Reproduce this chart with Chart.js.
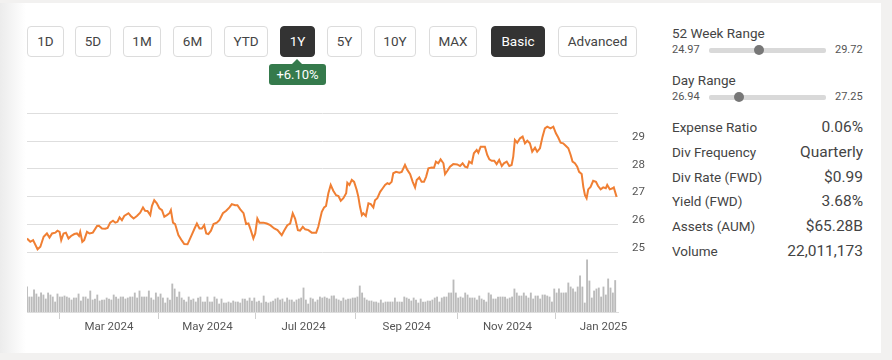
<!DOCTYPE html>
<html>
<head>
<meta charset="utf-8">
<script src="https://cdn.jsdelivr.net/npm/chart.js@4.4.1/dist/chart.umd.min.js"></script>
<style>
  body { margin: 0; width: 892px; height: 360px; overflow: hidden; background: #f2f1f0; font-family: Roboto, sans-serif; color: #444; position: relative; }
  .card { position: absolute; left: 0; top: 3px; width: 881px; height: 350px; background: #fff; }
  .shade { position: absolute; left: 0; top: 3px; width: 26px; height: 350px; background: linear-gradient(to right, #ececec, rgba(255,255,255,0)); }
  .btn { position: absolute; top: 26px; height: 31px; line-height: 29px; box-sizing: border-box; border: 1px solid #dcdcdc; border-radius: 4px; text-align: center; font-size: 13.5px; color: #444; background: #fff; }
  .btn.on { background: #333; border-color: #333; color: #fff; }
  .chg { position: absolute; left: 269px; top: 64px; width: 57px; height: 21px; line-height: 21px; background: #357a4c; color: #fff; border-radius: 3px; text-align: center; font-size: 13px; }
  .chg::before { content: ""; position: absolute; left: 23px; top: -5px; border-left: 5px solid transparent; border-right: 5px solid transparent; border-bottom: 5px solid #357a4c; }
  #wrap { position: absolute; left: 0; top: 100px; width: 660px; height: 245px; }
  .ttl { position: absolute; left: 672px; font-size: 13.5px; line-height: 18px; color: #444; }
  .num { position: absolute; font-size: 11px; line-height: 14px; color: #555; }
  .track { position: absolute; left: 709px; width: 117px; height: 5px; background: #d9d9d9; border-radius: 2px; }
  .knob { position: absolute; width: 10px; height: 10px; margin-left: -5px; border-radius: 50%; background: #777; }
  .row { position: absolute; left: 672px; width: 191px; display: flex; justify-content: space-between; line-height: 20px; }
  .row span:first-child { font-size: 13.5px; color: #444; }
  .row span:last-child { font-size: 15.5px; color: #444; }
</style>
</head>
<body>
<div class="card"></div>
<div class="shade"></div>

<div class="btn" style="left:27px;width:37px">1D</div>
<div class="btn" style="left:75px;width:36px">5D</div>
<div class="btn" style="left:123px;width:38px">1M</div>
<div class="btn" style="left:173px;width:39px">6M</div>
<div class="btn" style="left:224px;width:44px">YTD</div>
<div class="btn on" style="left:280px;width:35px">1Y</div>
<div class="btn" style="left:327px;width:35px">5Y</div>
<div class="btn" style="left:374px;width:42px">10Y</div>
<div class="btn" style="left:429px;width:48px">MAX</div>
<div class="btn on" style="left:491px;width:54px">Basic</div>
<div class="btn" style="left:558px;width:79px">Advanced</div>
<div class="chg">+6.10%</div>

<div id="wrap"><canvas id="priceChart" width="660" height="245"></canvas></div>

<div class="ttl" style="top:24px">52 Week Range</div>
<div class="num" style="left:672px;top:43px">24.97</div>
<div class="track" style="top:48px"></div>
<div class="knob" id="knobYear" style="top:45px"></div>
<div class="num" style="left:835px;top:43px">29.72</div>

<div class="ttl" style="top:71px">Day Range</div>
<div class="num" style="left:672px;top:90px">26.94</div>
<div class="track" style="top:95px"></div>
<div class="knob" id="knobDay" style="top:92px"></div>
<div class="num" style="left:835px;top:90px">27.25</div>

<div id="stats"></div>

<script>
// trading sessions since 10 Jan 2024 (x) and closing prices
const sessions = [0,1.4,2.6,4.5,5.7,7.1,8.5,9.6,10.7,12.1,13,13.9,14.6,15.6,16.6,17.7,18.8,20.2,21.3,22.2,
  22.7,23.6,24.4,25.6,26.7,28.1,29.9,30.7,32,33.4,34.4,35.5,36.7,37.7,38.6,39.5,40.5,41.5,43.3,44.3,
  45.5,46.9,48.3,49.5,50.4,51.4,52.6,53.3,54.3,55.4,56.5,57.6,58.6,59.7,60.8,61.4,62.3,63.2,64.6,66.1,
  67.1,68.5,69.3,70.4,71.5,72.5,73.6,74.6,75.6,76.5,77.4,78.5,79.6,81,82.1,83.6,85,86.4,87.4,88.8,
  89.8,91,92.4,93.5,94.5,95.5,96.6,97.4,98.3,99.2,100.9,102.3,103.8,105.5,106.9,108.7,109.7,111.1,112.3,113.4,
  114.4,115.6,116.5,117.7,118.7,120.1,121.5,123.4,124.3,125.8,126.8,127.6,128.6,129.6,130.7,131.9,132.9,133.9,135,136.2,
  136.7,137.6,138.6,139.6,140.7,141.4,142.1,142.9,143.5,144.6,145.7,146.7,147.8,148.5,149.5,150.7,151.8,152.8,153.8,154.6,
  155.6,156.3,157.5,158.9,159.9,161.3,162.3,163.5,164.6,165.6,166.3,167.4,168.4,169.4,170.3,171.3,172.7,173.7,174.5,175.5,
  176.5,177.7,178.4,179.4,180.5,181.9,183.6,184.8,185.9,186.9,187.9,188.7,189.8,190.7,191.9,192.6,193.6,195.4,196.4,197.3,
  198.3,199.4,200.4,201.5,202.6,203.5,204.7,205.8,206.8,207.5,208.2,209.2,210.4,211.5,212.5,213.5,214.6,215.6,216.8,217.7,
  218.9,220,221,222,223.4,224.6,225.7,226.7,227.7,228.8,230,231,232,232.8,233.8,234.8,235.6,236.7,237.4,238.1,
  238.8,239.5,240.5,241.6,242.8,243.7,244.8,245.9,247,247.6,248.7,249.9,250.4,251.6];
const closes = [25.49,25.37,25.43,25.10,25.19,25.55,25.67,25.52,25.67,25.70,25.77,25.73,25.43,25.67,25.70,25.49,25.58,25.65,25.67,25.58,
  25.73,25.37,25.43,25.73,25.67,25.70,25.94,25.95,25.85,25.84,25.87,26.06,26.13,26.06,26.09,26.25,26.15,26.30,26.40,26.30,
  26.21,26.30,26.42,26.61,26.49,26.48,26.33,26.66,26.87,26.76,26.58,26.51,26.27,26.33,26.40,26.51,26.06,26.01,25.61,25.41,
  25.29,25.28,25.43,25.64,25.85,26.03,25.85,25.85,25.97,25.67,25.65,25.77,26.01,26.06,26.15,26.40,26.49,26.61,26.73,26.69,
  26.69,26.54,26.40,26.01,26.03,25.79,25.49,25.67,26.21,26.06,26.06,26.03,25.97,25.85,25.79,25.61,25.77,25.97,26.03,26.40,
  26.21,25.79,25.77,25.91,25.82,25.79,25.70,25.70,25.91,26.45,26.61,26.66,27.12,27.42,27.21,27.05,27.02,26.85,26.94,27.12,
  27.50,27.42,27.60,27.53,27.24,26.99,26.63,26.33,26.40,26.30,26.76,26.73,26.61,26.87,26.94,27.17,27.30,27.42,27.48,27.45,
  27.53,27.84,27.89,27.86,27.89,28.14,27.96,27.81,27.53,27.33,27.60,27.69,27.53,27.53,27.71,28.02,28.05,28.04,28.26,28.20,
  28.34,28.20,27.81,27.93,28.08,28.17,28.16,28.10,28.20,28.08,28.05,28.26,28.20,28.56,28.68,28.58,28.80,28.80,28.50,28.34,
  28.29,28.29,28.17,28.32,28.10,28.20,28.26,28.10,28.14,28.44,29.04,28.94,29.10,29.16,28.92,29.01,28.92,28.62,28.76,28.62,
  28.74,29.16,29.46,29.52,29.46,29.52,29.28,29.13,28.94,28.92,28.82,28.74,28.50,28.26,28.20,28.08,27.89,27.81,27.35,27.05,
  26.94,27.26,27.35,27.57,27.53,27.38,27.26,27.33,27.30,27.42,27.26,27.30,27.33,26.99];

// daily volume in millions, one per session 0..251
const volumes = [17.5,10.5,10.5,15.4,12.6,10.5,13.3,11.9,9.1,13.3, 11.9,10.5,7.0,12.6,10.5,10.5,11.2,10.5,9.8,8.4,
  9.8,9.8,12.6,7.7,10.5,10.5,9.1,14.7,8.4,9.1, 11.9,7.7,8.4,8.4,9.8,9.1,8.4,11.9,10.5,9.1,
  10.5,10.5,9.1,9.8,10.5,10.5,13.3,9.8,14.7,10.5, 10.5,10.5,14.7,9.8,8.4,13.3,10.5,12.6,9.8,6.3,
  9.8,8.4,19.6,16.1,10.5,14.0,9.8,8.4,7.0,10.5, 8.4,9.1,7.0,9.8,10.5,7.0,7.0,10.5,7.0,7.0,
  10.5,9.1,5.6,9.1,6.3,6.3,7.0,6.3,7.7,7.0, 7.0,6.3,9.1,9.1,7.7,9.8,7.7,9.8,7.0,7.7,
  6.3,11.2,7.0,6.3,7.0,7.7,9.1,9.8,8.4,9.1, 7.0,9.8,8.4,8.4,7.0,8.4,9.1,9.8,16.8,8.4,
  5.6,9.8,9.1,7.0,8.4,10.5,9.8,10.5,9.8,9.1, 11.2,11.2,9.1,8.4,7.7,9.8,8.4,9.1,9.1,9.8,
  9.8,10.5,18.2,13.3,9.8,8.4,7.7,7.7,7.0,7.0, 6.3,8.4,6.3,7.0,7.0,7.0,7.0,9.8,7.0,7.0,
  7.0,10.5,9.8,9.1,7.7,9.8,8.4,6.3,9.1,7.0, 7.0,7.7,7.7,8.4,9.8,10.5,7.0,9.8,10.5,10.5,
  13.3,13.3,22.4,13.3,9.8,10.5,9.8,13.3,11.9,9.8, 9.8,9.8,8.4,11.2,9.1,8.4,7.0,13.3,11.9,9.1,
  9.1,10.5,10.5,10.5,10.5,9.1,9.8,10.5,16.1,13.3, 11.2,11.2,13.3,11.2,9.8,13.3,9.1,11.2,11.2,9.1,
  11.9,11.9,11.2,10.5,7.0,16.1,13.3,16.1,13.3,13.3, 13.3,20.3,17.5,16.1,14.0,17.5,25.2,17.5,6.3,36.4,
  21.7,9.8,14.7,16.1,16.8,10.5,17.5,11.9,23.1,16.8, 13.3,22.0];

const tickSessions = [35, 77, 118, 162, 205, 246];
const tickLabels = ['Mar 2024', 'May 2024', 'Jul 2024', 'Sep 2024', 'Nov 2024', 'Jan 2025'];
const priceTicks = [25, 26, 27, 28, 29, 30];

const yearLow = 24.97, yearHigh = 29.72;
const dayLow = 26.94, dayHigh = 27.25;
const lastPrice = 27.02;

const statLabels = ['Expense Ratio', 'Div Frequency', 'Div Rate (FWD)', 'Yield (FWD)', 'Assets (AUM)', 'Volume'];
const statValues = ['0.06%', 'Quarterly', '$0.99', '3.68%', '$65.28B', '22,011,173'];

// stats table on the right
let rows = '';
statLabels.forEach((label, i) => {
    rows += `<div class="row" style="top:${117 + i * 24.8}px"><span>${label}</span><span>${statValues[i]}</span></div>`;
});
document.getElementById('stats').innerHTML = rows;

// range sliders
document.getElementById('knobYear').style.left = (709 + 117 * (lastPrice - yearLow) / (yearHigh - yearLow)) + 'px';
document.getElementById('knobDay').style.left = (709 + 117 * (lastPrice - dayLow) / (dayHigh - dayLow)) + 'px';

const ctx = document.getElementById('priceChart').getContext('2d');
new Chart(ctx, {
    type: 'line',
    data: {
        datasets: [{
            type: 'line',
            data: sessions.map((s, i) => ({ x: s, y: closes[i] })),
            yAxisID: 'y',
            borderColor: '#f07f33',
            borderWidth: 2,
            pointRadius: 0,
            tension: 0,
            fill: false,
            order: 0
        }, {
            type: 'bar',
            data: volumes.map((v, i) => ({ x: i, y: v })),
            yAxisID: 'vol',
            backgroundColor: '#bbbbbb',
            barThickness: 1.2,
            order: 1
        }]
    },
    options: {
        responsive: false,
        animation: false,
        layout: { autoPadding: false, padding: { left: 27, right: 2, top: 10, bottom: 0 } },
        plugins: { legend: { display: false }, tooltip: { enabled: false } },
        scales: {
            x: {
                type: 'linear',
                min: 0,
                max: 252.2,
                offset: false,
                afterBuildTicks: axis => { axis.ticks = tickSessions.map(v => ({ value: v })); },
                afterFit: axis => { axis.height = 33; axis.paddingLeft = 0; axis.paddingRight = 0; },
                ticks: {
                    autoSkip: false,
                    maxRotation: 0,
                    padding: 1,
                    color: '#555',
                    font: { family: 'Roboto', size: 11.5 },
                    callback: (value, index) => tickLabels[index]
                },
                grid: { drawOnChartArea: false, drawTicks: true, tickLength: 7, color: '#cfcfcf' },
                border: { display: true, color: '#dddddd' }
            },
            y: {
                position: 'right',
                min: 22.84,
                max: 30.12,
                afterBuildTicks: axis => { axis.ticks = priceTicks.map(v => ({ value: v })); },
                // labels sit above their gridlines; keep that offset from shrinking the plot
                afterFit: axis => { axis.width = 40; axis.paddingTop = 0; axis.paddingBottom = 0; },
                ticks: {
                    padding: 14,
                    labelOffset: -4,
                    color: '#555',
                    font: { family: 'Roboto', size: 11.5 },
                    callback: value => value === 30 ? '' : value
                },
                grid: { drawTicks: false, color: '#dedede' },
                border: { display: false }
            },
            vol: {
                display: false,
                min: 0,
                max: 141
            }
        }
    }
});
</script>
</body>
</html>
